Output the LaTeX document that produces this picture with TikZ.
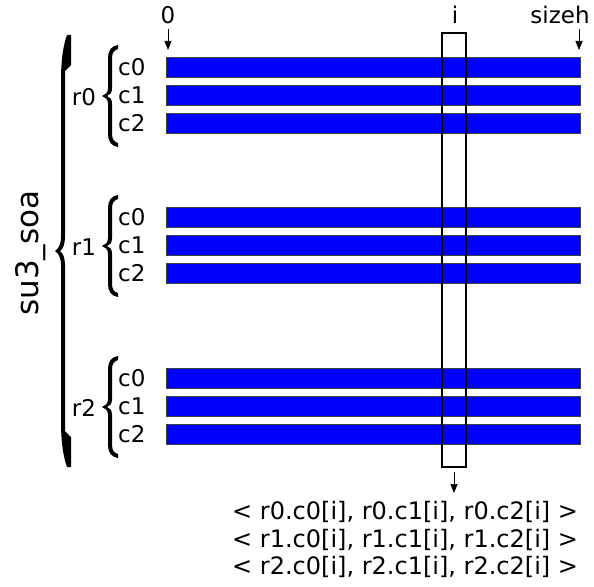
\documentclass[tikz,border=0pt]{standalone}
\usepackage{fontspec}
\setmainfont{DejaVu Sans}
\usetikzlibrary{arrows.meta}
\begin{document}
\begin{tikzpicture}[x=1pt,y=-1pt,
  lbl/.style={inner sep=0pt,font=\fontsize{23}{27}\selectfont},
  outlbl/.style={inner sep=0pt,anchor=west,font=\fontsize{24}{28}\selectfont},
  bar/.style={fill=blue,draw=black!75,line width=0.9pt},
  colbox/.style={draw=black,line width=1.4pt},
  ptr/.style={-{Triangle[length=9pt,width=7pt]},line width=0.7pt},
  smallbrace/.pic={\fill (10,-51) .. controls (3,-50) and (0,-45) .. (0,-38) -- (0,-8)
      .. controls (0,-3) and (-3,-1) .. (-6,0) .. controls (-3,1) and (0,3) .. (0,8)
      -- (0,38) .. controls (0,45) and (3,50) .. (10,51)
      -- (10,47) .. controls (6,46) and (4,43) .. (4,38) -- (4,8)
      .. controls (4,3) and (2,1) .. (-1,0) .. controls (2,-1) and (4,-3) .. (4,-8)
      -- (4,-38) .. controls (4,-43) and (6,-46) .. (10,-47) -- cycle;}
]
\useasboundingbox (0,0) rectangle (594,586);

% data bars: three groups r0, r1, r2 with components c0, c1, c2
\foreach \g/\y in {0/57,1/207,2/368}{
  \foreach \c in {0,1,2}{
    \path[bar] (166,\y+28*\c) rectangle (580,\y+28*\c+20);
    \node[lbl,anchor=west] (c\c r\g) at (118,\y+28*\c+10) {c\c};
  }
  \node[lbl] (r\g) at (84,\y+40) {r\g};
  \pic at (108,\y+39) {smallbrace};
}

% outer brace grouping the whole structure
\fill (67,35) .. controls (63,46) and (61,61) .. (61,81) -- (61,237)
  .. controls (61,245) and (58,249) .. (55,251) .. controls (58,253) and (61,257) .. (61,265)
  -- (61,421) .. controls (61,441) and (63,456) .. (67,467)
  -- (71,467) -- (71,437) -- (65,431) -- (65,265)
  .. controls (65,258) and (63,253) .. (60,251) .. controls (63,249) and (65,244) .. (65,237)
  -- (65,71) -- (71,65) -- (71,35) -- cycle;
\node[inner sep=0pt,rotate=90,font=\fontsize{31}{36}\selectfont] (soa) at (31,253) {su3\_soa};

% selected column i
\draw[colbox] (442,33) rectangle (466,467);
\coordinate (colbot) at (454,467);

% index markers
\node[lbl] (lo) at (168,15) {0};
\node[lbl] (idx) at (455,15) {i};
\node[lbl] (hi) at (560,15) {sizeh};
\coordinate (loend) at (168,50);
\coordinate (hiend) at (579,50);
\draw[ptr] (lo.south) ++(0,5) -- (loend);
\draw[ptr] (579,29) -- (hiend);

% gathered element
\node[outlbl] (t0) at (232,512) {< r0.c0[i], r0.c1[i], r0.c2[i] >};
\node[outlbl] (t1) at (232,540) {< r1.c0[i], r1.c1[i], r1.c2[i] >};
\node[outlbl] (t2) at (232,567) {< r2.c0[i], r2.c1[i], r2.c2[i] >};
\coordinate (outtop) at (454,493);
\draw[ptr] (colbot) ++(0,5) -- (outtop);
\end{tikzpicture}
\end{document}
